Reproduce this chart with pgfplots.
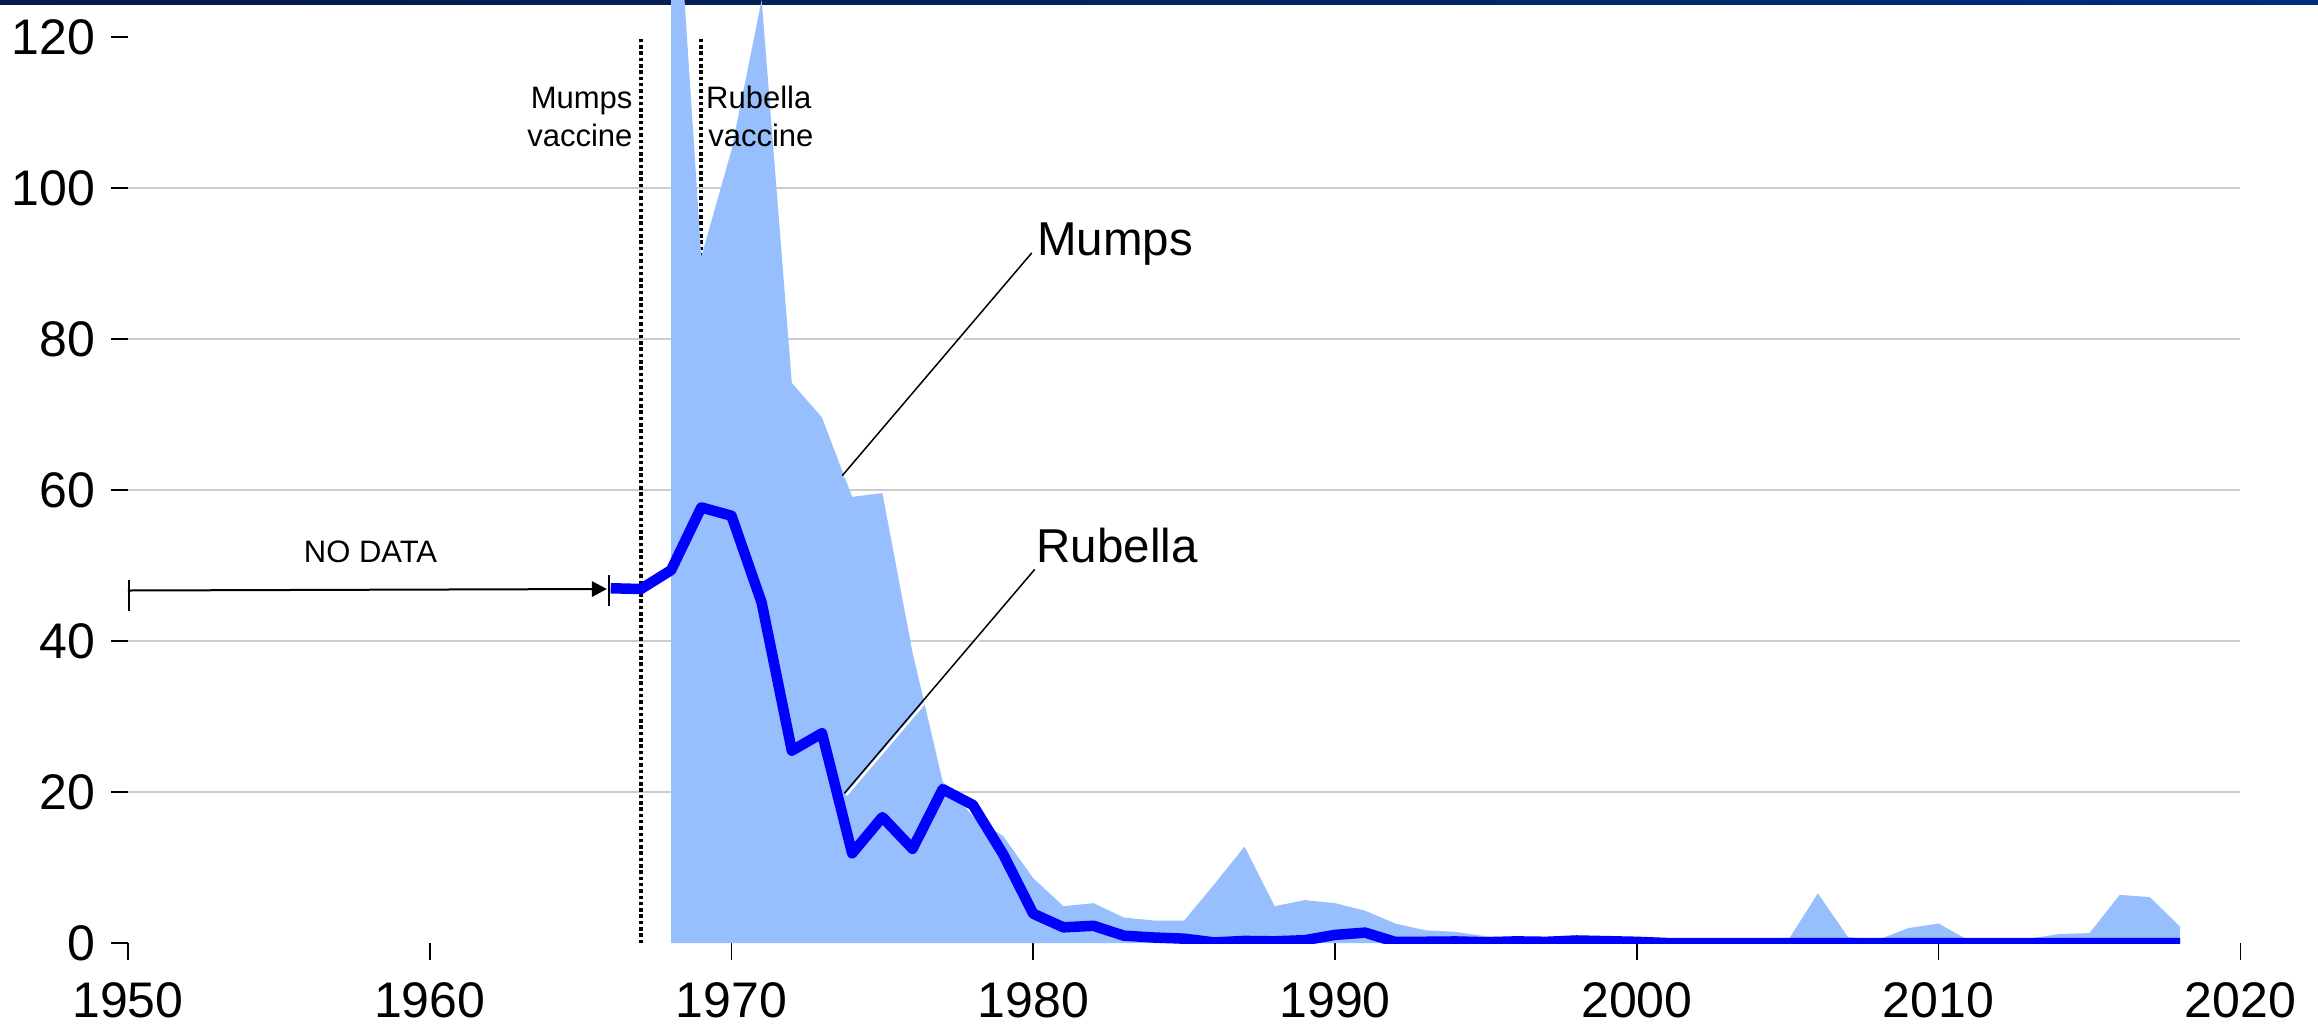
\documentclass[border=0pt]{standalone}
\usepackage{fontspec}
\setmainfont{Liberation Sans}
\usepackage{pgfplots}
\pgfplotsset{compat=1.18}
\usetikzlibrary{arrows.meta}
\definecolor{mumpsc}{HTML}{97BFFD}
\definecolor{rubc}{HTML}{0000FF}
\definecolor{gridc}{HTML}{CCCCCC}
\definecolor{barA}{HTML}{051A48}
\definecolor{barB}{HTML}{002E7C}
\begin{document}
\begin{tikzpicture}
\path[use as bounding box] (0,0) rectangle (463.6pt,206.2pt);
\shade[left color=barA, right color=barB] (0,205.35pt) rectangle (463.6pt,206.2pt);
\begin{axis}[
  at={(25.58pt,17.56pt)}, anchor=south west, scale only axis,
  width=422.5pt, height=188.8pt,
  xmin=1950, xmax=2020, ymin=0, ymax=125,
  xtick={1950,1960,...,2020}, ytick={0,20,...,120},
  axis line style={draw=none}, tick pos=left, tick align=outside,
  major tick length=3.3pt,
  tick style={black, line width=0.35pt},
  /pgf/number format/assume math mode=true,
  /pgf/number format/1000 sep={},
  xticklabel style={font=\fontsize{10}{11}\selectfont, inner sep=0pt, anchor=north, yshift=-4.4pt},
  yticklabel style={font=\fontsize{10}{11}\selectfont, inner sep=0pt, anchor=east, xshift=-3.0pt},
  clip mode=individual,
]
% grid
\draw[gridc, line width=0.45pt] (axis cs:1950,20) -- (axis cs:2020,20);
\draw[gridc, line width=0.45pt] (axis cs:1950,40) -- (axis cs:2020,40);
\draw[gridc, line width=0.45pt] (axis cs:1950,60) -- (axis cs:2020,60);
\draw[gridc, line width=0.45pt] (axis cs:1950,80) -- (axis cs:2020,80);
\draw[gridc, line width=0.45pt] (axis cs:1950,100) -- (axis cs:2020,100);
% vaccine lines
\draw[black, line width=0.75pt, dash pattern=on 0.7pt off 0.56pt] (axis cs:1967,0) -- (axis cs:1967,119.9);
\draw[black, line width=0.75pt, dash pattern=on 0.7pt off 0.56pt] (axis cs:1969,0) -- (axis cs:1969,119.9);
% Mumps (thousands of cases)
\addplot[fill=mumpsc, draw=none, mark=none] coordinates {
(1968,152.2) (1969,90.9) (1970,105.0) (1971,124.9) (1972,74.2) (1973,69.6)
(1974,59.1) (1975,59.6) (1976,38.5) (1977,21.4) (1978,16.8) (1979,14.2)
(1980,8.6) (1981,4.9) (1982,5.3) (1983,3.4) (1984,3.0) (1985,3.0)
(1986,7.8) (1987,12.8) (1988,4.9) (1989,5.7) (1990,5.3) (1991,4.3)
(1992,2.6) (1993,1.7) (1994,1.5) (1995,0.9) (1996,0.75) (1997,0.68)
(1998,0.67) (1999,0.39) (2000,0.34) (2001,0.27) (2002,0.27) (2003,0.23)
(2004,0.26) (2005,0.31) (2006,6.6) (2007,0.8) (2008,0.45) (2009,2.0)
(2010,2.6) (2011,0.37) (2012,0.23) (2013,0.58) (2014,1.22) (2015,1.33)
(2016,6.4) (2017,6.1) (2018,2.2)
} \closedcycle;
% Rubella
\addplot[rubc, line width=2.1pt, line join=round, mark=none] coordinates {
(1966,47.0) (1967,46.9) (1968,49.4) (1969,57.7) (1970,56.6) (1971,45.1)
(1972,25.5) (1973,27.8) (1974,11.9) (1975,16.7) (1976,12.5) (1977,20.4)
(1978,18.3) (1979,11.8) (1980,3.9) (1981,2.1) (1982,2.3) (1983,1.0)
(1984,0.75) (1985,0.6) (1986,0.1) (1987,0.3) (1988,0.25) (1989,0.4)
(1990,1.1) (1991,1.4) (1992,0.16) (1993,0.19) (1994,0.23) (1995,0.13)
(1996,0.24) (1997,0.18) (1998,0.36) (1999,0.27) (2000,0.18) (2001,0.02)
(2002,0.02) (2003,0.01) (2004,0.01) (2005,0.01) (2006,0.01) (2007,0.01)
(2008,0.02) (2009,0.0) (2010,0.01) (2011,0.0) (2012,0.01) (2013,0.01)
(2014,0.01) (2015,0.01) (2016,0.0) (2017,0.01) (2018,0.0)
};
% NO DATA arrow
\draw[black, line width=0.4pt, -{Triangle[length=3pt,width=3.1pt]}] (axis cs:1950,46.7) -- (axis cs:1965.87,46.9);
\draw[black, line width=0.4pt] (axis cs:1950.05,44.0) -- (axis cs:1950.05,48.1);
\draw[black, line width=0.4pt] (axis cs:1965.94,44.65) -- (axis cs:1965.94,48.75);
\node[anchor=base, inner sep=0pt, font=\fontsize{6.2}{7}\selectfont] at (axis cs:1958.04,50.4) {NO DATA};
% vaccine labels
\node[anchor=base east, inner sep=0pt, font=\fontsize{6.2}{7}\selectfont] at (axis cs:1966.75,110.57) {Mumps};
\node[anchor=base east, inner sep=0pt, font=\fontsize{6.2}{7}\selectfont] at (axis cs:1966.75,105.5) {vaccine};
\node[anchor=base west, inner sep=0pt, font=\fontsize{6.2}{7}\selectfont] at (axis cs:1969.13,110.57) {Rubella};
\node[anchor=base west, inner sep=0pt, font=\fontsize{6.2}{7}\selectfont] at (axis cs:1969.2,105.5) {vaccine};
% leader lines
\draw[white, line width=0.45pt] ([shift={(0.4pt,-0.35pt)}]axis cs:1979.95,91.4) -- ([shift={(0.4pt,-0.35pt)}]axis cs:1973.67,61.9);
\draw[black, line width=0.3pt] (axis cs:1979.95,91.4) -- (axis cs:1973.67,61.9);
\draw[white, line width=0.45pt] ([shift={(0.4pt,-0.35pt)}]axis cs:1980.05,49.5) -- ([shift={(0.4pt,-0.35pt)}]axis cs:1973.74,19.85);
\draw[black, line width=0.3pt] (axis cs:1980.05,49.5) -- (axis cs:1973.74,19.85);
\node[anchor=base west, inner sep=0pt, font=\fontsize{9.5}{11}\selectfont] at (axis cs:1980.1,91.1) {Mumps};
\node[anchor=base west, inner sep=0pt, font=\fontsize{9.5}{11}\selectfont] at (axis cs:1980.08,50.44) {Rubella};
\end{axis}
\end{tikzpicture}
\end{document}
